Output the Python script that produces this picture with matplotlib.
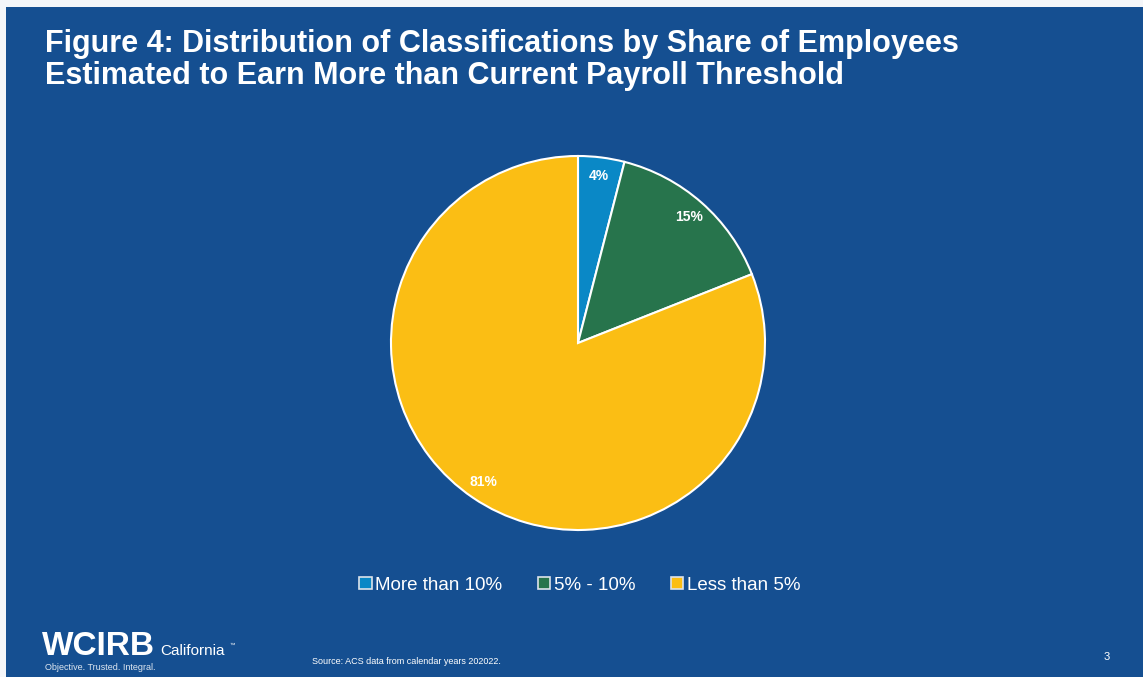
import matplotlib
matplotlib.use("Agg")
import matplotlib.pyplot as plt
from matplotlib.patches import Rectangle, Patch

categories = ["More than 10%", "5% - 10%", "Less than 5%"]
shares = [4, 15, 81]
colors = ["#0A88C6", "#27744C", "#FBBE14"]

BG = "#154F91"
W, H = 1143, 677
fig = plt.figure(figsize=(W / 100, H / 100), dpi=100, facecolor=BG)
plt.rcParams['font.family'] = ['Liberation Sans', 'DejaVu Sans']

# white borders (top and left)
fig.patches.append(Rectangle((0, 1 - 7 / H), 1, 7 / H, transform=fig.transFigure,
                             facecolor="#F4F6F9", edgecolor="none", zorder=0))
fig.patches.append(Rectangle((0, 0), 6 / W, 1, transform=fig.transFigure,
                             facecolor="#F4F6F9", edgecolor="none", zorder=0))

# Title
fig.text(45 / W, 1 - 44 / H, "Figure 4: Distribution of Classifications by Share of Employees",
         fontsize=22, fontweight="bold", color="white", va="center", ha="left")
fig.text(45 / W, 1 - 76 / H, "Estimated to Earn More than Current Payroll Threshold",
         fontsize=22, fontweight="bold", color="white", va="center", ha="left")

# Pie
cx, cy, r = 578, 343, 187
ax = fig.add_axes([(cx - r) / W, (H - cy - r) / H, 2 * r / W, 2 * r / H])
ax.set_facecolor("none")
wedges, texts, autotexts = ax.pie(
    shares, colors=colors, startangle=90, counterclock=False,
    autopct="%d%%", pctdistance=0.9,
    wedgeprops=dict(edgecolor="white", linewidth=1.5),
    textprops=dict(color="white", fontsize=10, fontweight="bold"))
ax.set_xlim(-1, 1)
ax.set_ylim(-1, 1)
ax.set_aspect("equal")
ax.axis("off")

# Legend
handles = [Patch(facecolor=c, edgecolor="#DDE3EA", linewidth=1.2) for c in colors]
leg = fig.legend(handles, categories, loc="center", bbox_to_anchor=(580 / W, 1 - 585 / H),
                 ncol=3, frameon=False, fontsize=13.5, labelcolor="white",
                 handlelength=0.65, handleheight=0.65, handletextpad=0.2, columnspacing=1.9)

# Logo
fig.text(42 / W, 1 - 655 / H, "WCIRB", fontsize=24, fontweight="heavy", color="white",
         va="baseline", ha="left")
fig.text(160 / W, 1 - 655 / H, "California", fontsize=11, color="white", va="baseline", ha="left")
fig.text(229 / W, 1 - 645 / H, "™", fontsize=4, color="white", va="center", ha="left")
fig.text(45 / W, 1 - 670 / H, "Objective. Trusted. Integral.", fontsize=6.5, color="#DDE6F0",
         va="baseline", ha="left")

# Source and page number
fig.text(312 / W, 1 - 662 / H, "Source: ACS data from calendar years 202022.", fontsize=6.5,
         color="white", va="center", ha="left")
fig.text(1107 / W, 1 - 657 / H, "3", fontsize=8, color="white", va="center", ha="center")

fig.savefig("out.png", dpi=100, facecolor=BG)
